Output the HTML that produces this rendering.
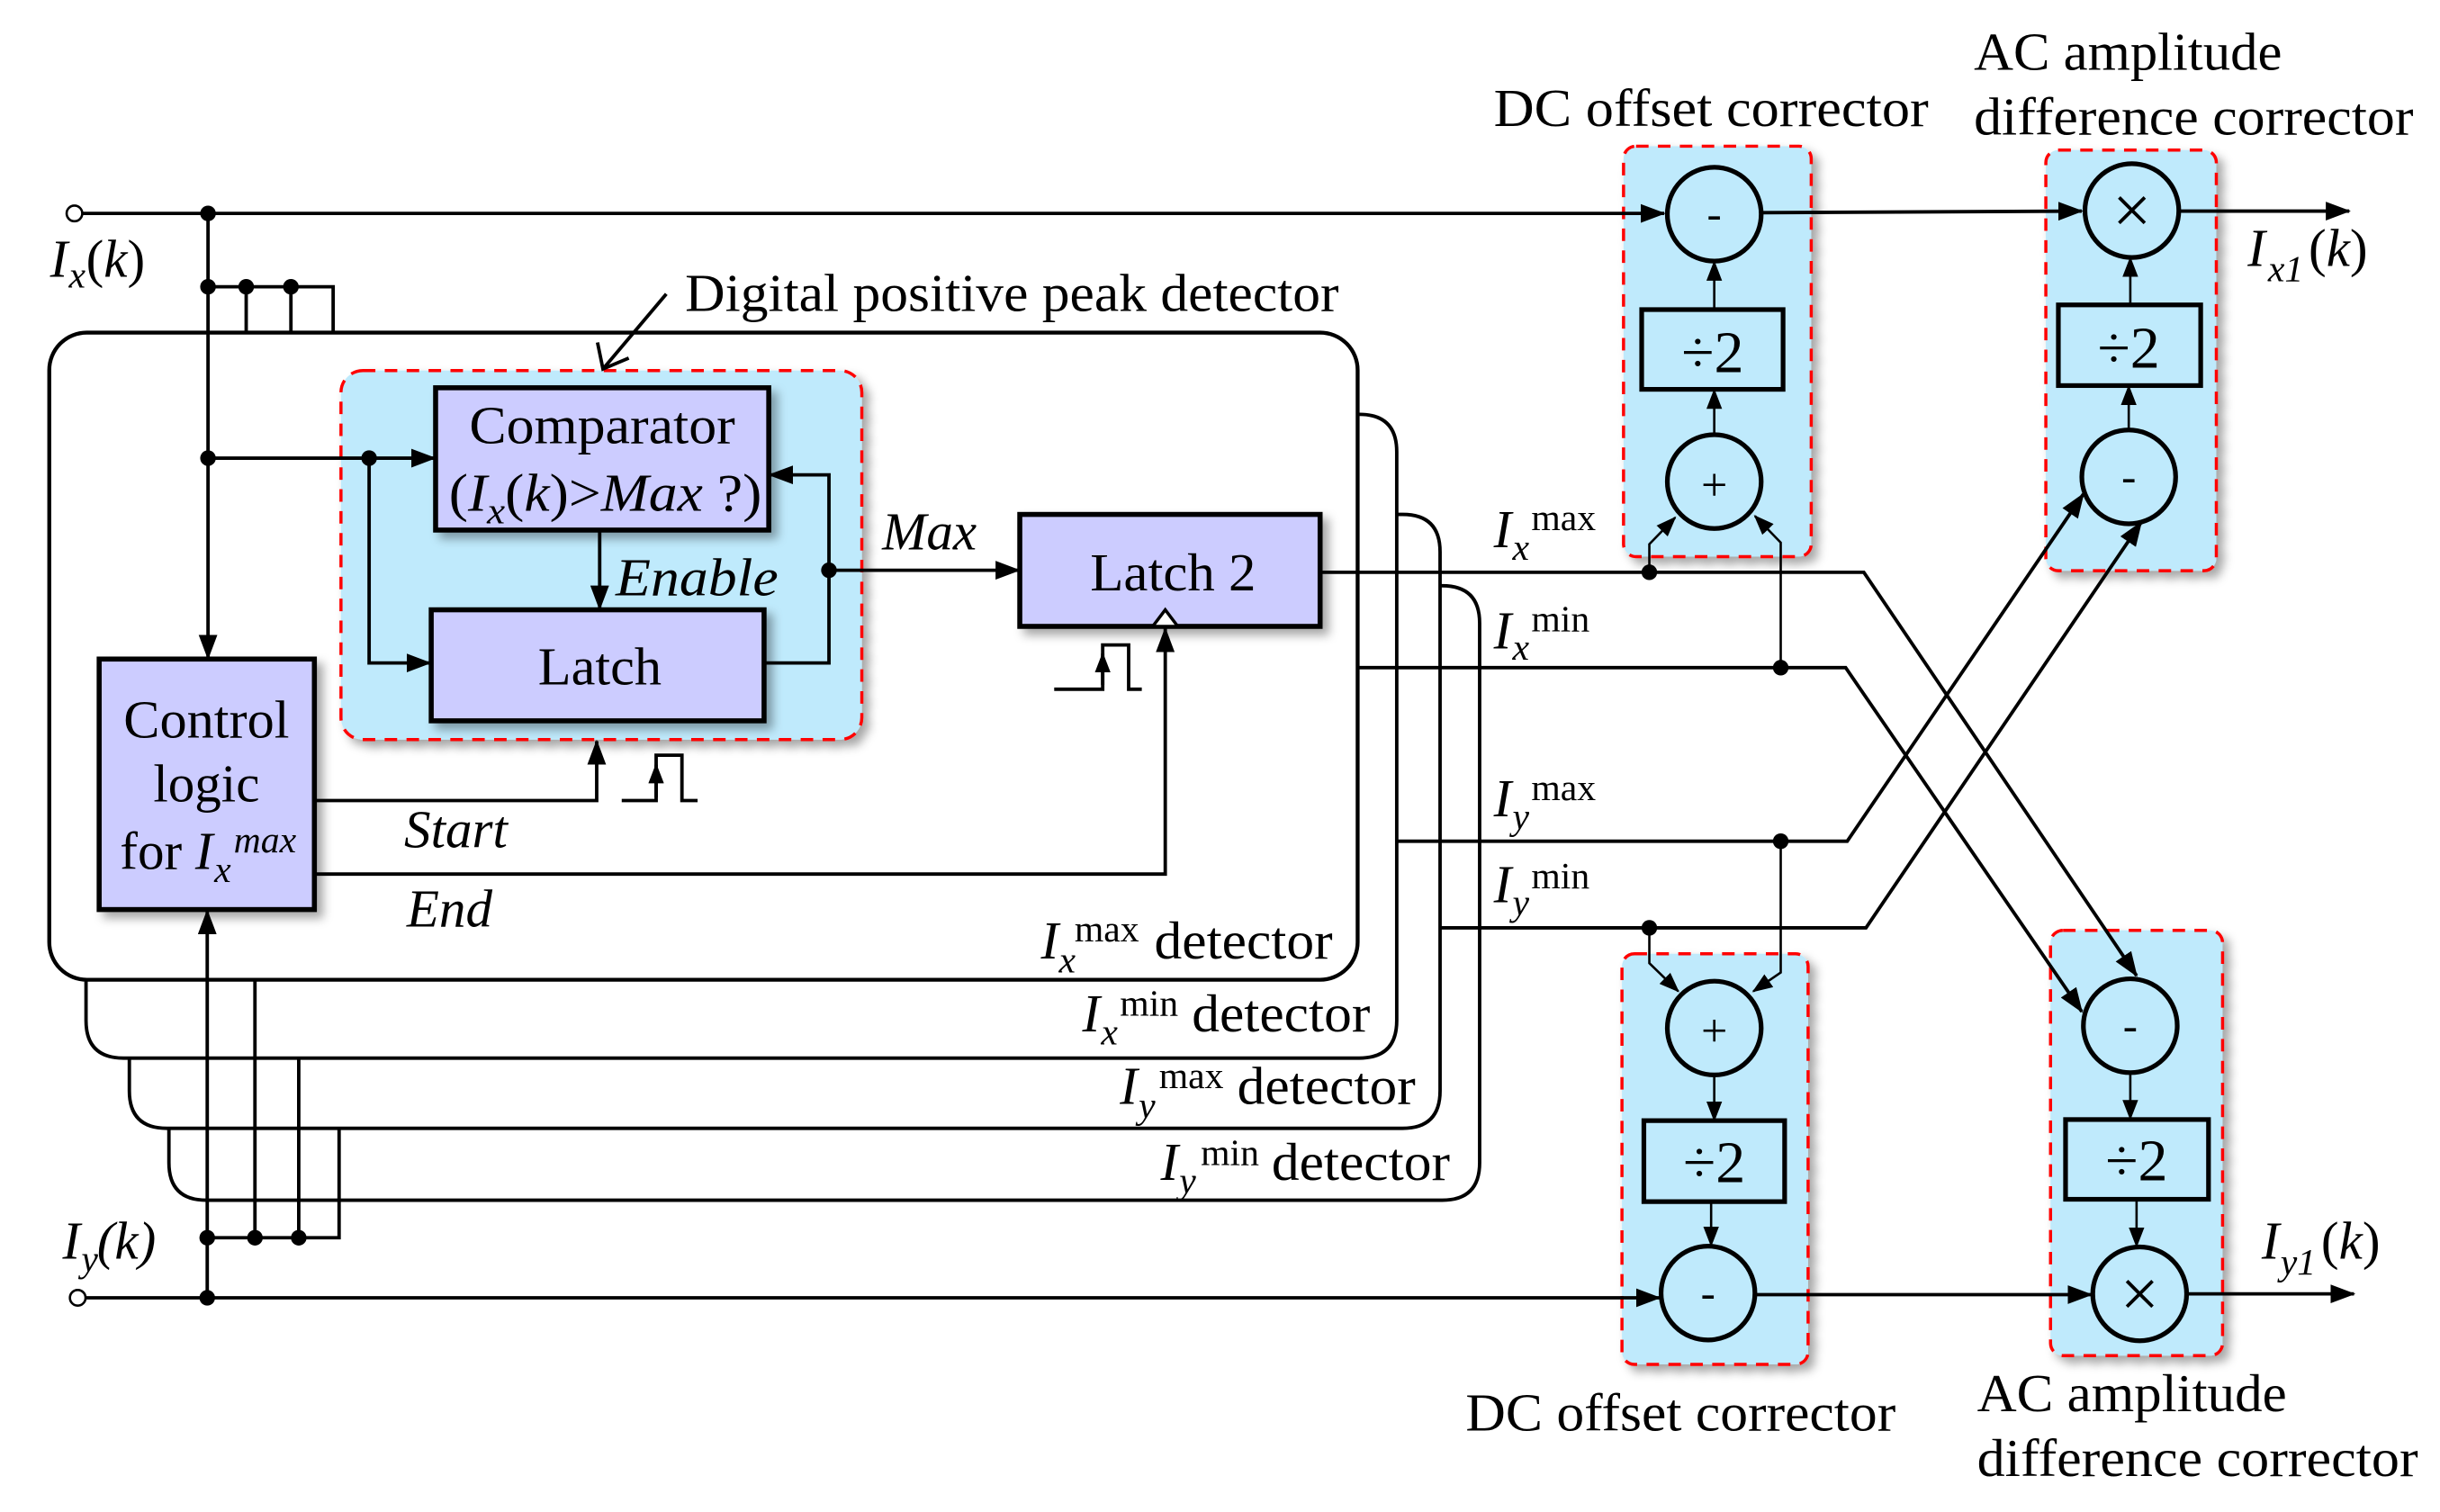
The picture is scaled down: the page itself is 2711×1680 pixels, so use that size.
<!DOCTYPE html>
<html><head><meta charset="utf-8"><style>
html,body{margin:0;padding:0;background:#fff;}
svg{display:block;}
text{font-family:"Liberation Serif","Times New Roman",serif;fill:#000;}
.i{font-style:italic;}
</style></head><body>
<svg width="2711" height="1680" viewBox="0 0 1560 967" preserveAspectRatio="none" xmlns="http://www.w3.org/2000/svg">
<defs>
<marker id="a" markerUnits="userSpaceOnUse" markerWidth="16" markerHeight="12" refX="15" refY="6" orient="auto"><path d="M0,0 L16,6 L0,12 Z" fill="#000"/></marker>
<marker id="s" markerUnits="userSpaceOnUse" markerWidth="13" markerHeight="10" refX="12" refY="5" orient="auto"><path d="M0,0 L13,5 L0,10 Z" fill="#000"/></marker>
<filter id="sh" x="-10%" y="-10%" width="130%" height="130%"><feDropShadow dx="4" dy="4" stdDeviation="3" flood-color="#000" flood-opacity="0.35"/></filter>
</defs>
<g fill="none" stroke="#000" stroke-width="2.2">
<path d="M108,374.6 V743.6 Q108,767.6 132,767.6 H922 Q946,767.6 946,743.6 V398.6 Q946,374.6 922,374.6 Z" fill="#fff"/>
<path d="M82.7,329 V697.6 Q82.7,721.6 106.7,721.6 H896.7 Q920.7,721.6 920.7,697.6 V353 Q920.7,329 896.7,329 Z" fill="#fff"/>
<path d="M55,265 V652.7 Q55,676.7 79,676.7 H869 Q893,676.7 893,652.7 V289 Q893,265 869,265 Z" fill="#fff"/>
<rect x="31.5" y="212.7" width="836.5" height="413.9" rx="24" fill="#fff" stroke-width="2.5"/>
</g>
<g fill="#bfeafc" stroke="#ff0000" stroke-width="2" stroke-dasharray="8,6" filter="url(#sh)">
<rect x="218" y="237" width="333" height="236" rx="14"/>
<rect x="1038" y="93.5" width="120" height="262.5" rx="8"/>
<rect x="1308" y="96" width="109" height="269" rx="8"/>
<rect x="1037" y="610" width="119" height="262.6" rx="8"/>
<rect x="1311" y="595" width="110" height="272" rx="8"/>
</g>
<g fill="#ccccff" stroke="#000" stroke-width="3.2" filter="url(#sh)">
<rect x="278.5" y="248" width="213" height="91"/>
<rect x="275.7" y="390" width="212.8" height="71"/>
<rect x="63.4" y="421.5" width="137.6" height="160.2"/>
<rect x="652" y="329" width="192" height="71.6"/>
</g>
<g fill="#bfeafc" stroke="#000" stroke-width="3">
<circle cx="1096" cy="137" r="30"/>
<rect x="1049.6" y="198" width="90.4" height="51"/>
<circle cx="1096" cy="308" r="30"/>
<circle cx="1363" cy="134.7" r="30"/>
<rect x="1316" y="195" width="91" height="51.6"/>
<circle cx="1361" cy="305" r="30"/>
<circle cx="1096" cy="657.5" r="30"/>
<rect x="1051" y="716.7" width="90" height="51.8"/>
<circle cx="1092" cy="827" r="30"/>
<circle cx="1362" cy="656" r="30"/>
<rect x="1320.6" y="716" width="91.4" height="51"/>
<circle cx="1368" cy="827.5" r="30"/>
</g>
<g fill="none" stroke="#000" stroke-width="2.2">
<line x1="50.5" y1="136.5" x2="1064" y2="136.5" marker-end="url(#a)"/>
<line x1="1126" y1="136" x2="1331" y2="135" marker-end="url(#a)"/>
<line x1="1393" y1="135" x2="1502" y2="135" marker-end="url(#a)"/>
<line x1="133" y1="136.5" x2="133" y2="421" marker-end="url(#a)"/>
<polyline points="133,183.4 213,183.4 213,212.7"/>
<line x1="157.4" y1="183.4" x2="157.4" y2="212.7"/>
<line x1="186" y1="183.4" x2="186" y2="212.7"/>
<line x1="133" y1="293" x2="278" y2="293" marker-end="url(#a)"/>
<polyline points="236,293 236,424 275,424" marker-end="url(#a)"/>
<line x1="383.4" y1="339" x2="383.4" y2="389.5" marker-end="url(#a)"/>
<polyline points="488.5,424 530,424 530,303.7 492,303.7" marker-end="url(#a)"/>
<line x1="530" y1="364.7" x2="651.5" y2="364.7" marker-end="url(#a)"/>
<polyline points="201,512 381.5,512 381.5,474" marker-end="url(#a)"/>
<polyline points="201,559 745,559 745,402" marker-end="url(#a)"/>
<polyline points="397.5,512 419.5,512 419.5,483 436,483 436,512 446,512"/>
<line x1="419.5" y1="510" x2="419.5" y2="489" marker-end="url(#s)"/>
<polyline points="674,440.8 705,440.8 705,412.5 721.6,412.5 721.6,440.8 730,440.8"/>
<line x1="705" y1="438" x2="705" y2="418" marker-end="url(#s)"/>
<line x1="53" y1="830" x2="1061" y2="830" marker-end="url(#a)"/>
<line x1="1122" y1="828" x2="1337" y2="828" marker-end="url(#a)"/>
<line x1="1398" y1="827.5" x2="1505" y2="827.5" marker-end="url(#a)"/>
<line x1="132.5" y1="830" x2="132.5" y2="582.5" marker-end="url(#a)"/>
<polyline points="132.5,791.6 216.8,791.6 216.8,721.6"/>
<line x1="163" y1="791.6" x2="163" y2="626.6"/>
<line x1="191" y1="791.6" x2="191" y2="676.7"/>
<polyline points="844,366 1191.6,366 1366,624" marker-end="url(#a)"/>
<polyline points="868,427 1180,427 1331,647" marker-end="url(#a)"/>
<polyline points="893,538 1181,538 1332,316" marker-end="url(#a)"/>
<polyline points="920.7,593.4 1193,593.4 1369,334" marker-end="url(#a)"/>
<polyline points="1054.5,366 1054.5,348 1071,331" stroke-width="1.5" marker-end="url(#s)"/>
<polyline points="1138.5,427 1138.5,347 1122,330" stroke-width="1.5" marker-end="url(#s)"/>
<polyline points="1054.5,593.4 1054.5,616 1073,634" stroke-width="1.5" marker-end="url(#s)"/>
<polyline points="1138.5,538 1138.5,622 1121,634" stroke-width="1.5" marker-end="url(#s)"/>
<line x1="1096" y1="278" x2="1096" y2="249.5" stroke-width="1.5" marker-end="url(#s)"/>
<line x1="1096" y1="198" x2="1096" y2="167.5" stroke-width="1.5" marker-end="url(#s)"/>
<line x1="1361" y1="275" x2="1361" y2="247" stroke-width="1.5" marker-end="url(#s)"/>
<line x1="1362" y1="195" x2="1362" y2="165" stroke-width="1.5" marker-end="url(#s)"/>
<line x1="1096" y1="687.5" x2="1096" y2="716.5" stroke-width="1.5" marker-end="url(#s)"/>
<line x1="1094" y1="768.5" x2="1094" y2="796.5" stroke-width="1.5" marker-end="url(#s)"/>
<line x1="1362" y1="686" x2="1362" y2="715.5" stroke-width="1.5" marker-end="url(#s)"/>
<line x1="1366" y1="767" x2="1366" y2="797" stroke-width="1.5" marker-end="url(#s)"/>
<polyline points="426,188 385.5,236"/>
<polyline points="382,219 385.5,236 402,229"/>
</g>
<path d="M737,400.6 L745,390 L753,400.6 Z" fill="#fff" stroke="#000" stroke-width="2"/>
<circle cx="47.6" cy="136.5" r="5" fill="#fff" stroke="#000" stroke-width="1.5"/>
<circle cx="49.7" cy="830" r="5" fill="#fff" stroke="#000" stroke-width="1.5"/>
<g fill="#000">
<circle cx="133" cy="136.5" r="5"/><circle cx="133" cy="183.4" r="5"/><circle cx="157.4" cy="183.4" r="5"/><circle cx="186" cy="183.4" r="5"/>
<circle cx="133" cy="293" r="5"/><circle cx="236" cy="293" r="5"/><circle cx="530" cy="364.7" r="5"/>
<circle cx="132.5" cy="830" r="5"/><circle cx="132.5" cy="791.6" r="5"/><circle cx="163" cy="791.6" r="5"/><circle cx="191" cy="791.6" r="5"/>
<circle cx="1054.5" cy="366" r="5"/><circle cx="1138.5" cy="427" r="5"/><circle cx="1138.5" cy="538" r="5"/><circle cx="1054.5" cy="593.4" r="5"/>
</g>
<g font-size="28" text-anchor="middle">
<text x="1096" y="146">-</text>
<text x="1096" y="320" font-size="30">+</text>
<text x="1363" y="149" font-size="44">×</text>
<text x="1361" y="314">-</text>
<text x="1096" y="669" font-size="30">+</text>
<text x="1092" y="836">-</text>
<text x="1362" y="665">-</text>
<text x="1368" y="842" font-size="44">×</text>
</g>
<g font-size="38" text-anchor="middle">
<text x="1095" y="238">÷2</text>
<text x="1361" y="235">÷2</text>
<text x="1096" y="756">÷2</text>
<text x="1366" y="755">÷2</text>
</g>
<g font-size="34" lengthAdjust="spacingAndGlyphs">
<text x="300" y="283.6" textLength="170" lengthAdjust="spacingAndGlyphs">Comparator</text>
<text x="287" y="326.8" textLength="200" lengthAdjust="spacingAndGlyphs">(<tspan class="i">I</tspan><tspan class="i" font-size="24" dy="8">x</tspan><tspan dy="-8">(</tspan><tspan class="i">k</tspan>)&gt;<tspan class="i">Max</tspan> ?)</text>
<text x="344" y="437.7" textLength="79" lengthAdjust="spacingAndGlyphs">Latch</text>
<text x="697" y="377.6" textLength="106" lengthAdjust="spacingAndGlyphs">Latch 2</text>
<text x="79" y="471.6" textLength="106" lengthAdjust="spacingAndGlyphs">Control</text>
<text x="132" y="512.7" text-anchor="middle">logic</text>
<text x="76.7" y="555.8">for <tspan class="i">I</tspan></text>
<text x="137" y="564" class="i" font-size="24">x</text>
<text x="149.4" y="545" class="i" font-size="24">max</text>
<text x="393.6" y="380.7" class="i" textLength="104" lengthAdjust="spacingAndGlyphs">Enable</text>
<text x="564" y="351.4" class="i">Max</text>
<text x="258.4" y="542" class="i">Start</text>
<text x="260" y="592.7" class="i">End</text>
<text x="438" y="198.8" textLength="418" lengthAdjust="spacingAndGlyphs">Digital positive peak detector</text>
<text x="955" y="80.7" textLength="278" lengthAdjust="spacingAndGlyphs">DC offset corrector</text>
<text x="1262" y="44.7" textLength="197" lengthAdjust="spacingAndGlyphs">AC amplitude</text>
<text x="1262" y="86" textLength="281" lengthAdjust="spacingAndGlyphs">difference corrector</text>
<text x="937" y="915" textLength="275" lengthAdjust="spacingAndGlyphs">DC offset corrector</text>
<text x="1264" y="902.6" textLength="198" lengthAdjust="spacingAndGlyphs">AC amplitude</text>
<text x="1264" y="944" textLength="282" lengthAdjust="spacingAndGlyphs">difference corrector</text>
<text x="32" y="177" class="i">I</text><text x="44" y="184" class="i" font-size="24">x</text><text x="55" y="177">(<tspan class="i">k</tspan>)</text>
<text x="40" y="805" class="i">I</text><text x="52" y="813" class="i" font-size="24">y</text><text x="62" y="805" class="i">(k)</text>
<text x="1437" y="170" class="i">I</text><text x="1450" y="180" class="i" font-size="24">x1</text><text x="1476" y="170">(<tspan class="i">k</tspan>)</text>
<text x="1446" y="805" class="i">I</text><text x="1458" y="815" class="i" font-size="24">y1</text><text x="1484" y="805">(<tspan class="i">k</tspan>)</text>
<text x="955" y="350" class="i">I</text><text x="967" y="358" class="i" font-size="24">x</text><text x="979" y="339" font-size="24">max</text>
<text x="955" y="414.6" class="i">I</text><text x="967" y="422" class="i" font-size="24">x</text><text x="979" y="403.8" font-size="24">min</text>
<text x="955" y="522" class="i">I</text><text x="967" y="530" class="i" font-size="24">y</text><text x="979" y="511.7" font-size="24">max</text>
<text x="955" y="577" class="i">I</text><text x="967" y="585" class="i" font-size="24">y</text><text x="979" y="568" font-size="24">min</text>
<text x="665.5" y="613" class="i">I</text><text x="677" y="622" class="i" font-size="24">x</text><text x="687" y="602" font-size="24">max</text><text x="738" y="613" textLength="114" lengthAdjust="spacingAndGlyphs">detector</text>
<text x="692" y="659.6" class="i">I</text><text x="704" y="668" class="i" font-size="24">x</text><text x="716" y="649.7" font-size="24">min</text><text x="762" y="659.6" textLength="114" lengthAdjust="spacingAndGlyphs">detector</text>
<text x="716" y="706" class="i">I</text><text x="728" y="715" class="i" font-size="24">y</text><text x="741" y="696" font-size="24">max</text><text x="791" y="706" textLength="114" lengthAdjust="spacingAndGlyphs">detector</text>
<text x="742" y="754.5" class="i">I</text><text x="754" y="763" class="i" font-size="24">y</text><text x="767.7" y="745" font-size="24">min</text><text x="813" y="754.5" textLength="114" lengthAdjust="spacingAndGlyphs">detector</text>
</g>
</svg>
</body></html>
